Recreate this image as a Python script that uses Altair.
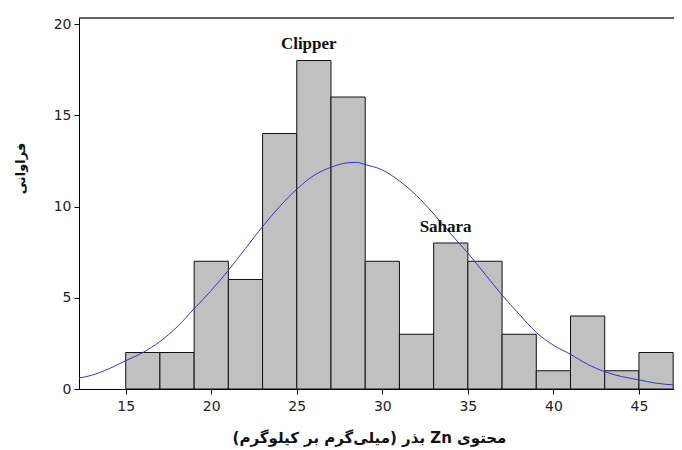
import altair as alt
import pandas as pd

# Histogram bins (Zn content, mg/kg) and frequencies
bin_start = [15, 17, 19, 21, 23, 25, 27, 29, 31, 33, 35, 37, 39, 41, 43, 45]
bin_end = [17, 19, 21, 23, 25, 27, 29, 31, 33, 35, 37, 39, 41, 43, 45, 47]
counts = [2, 2, 7, 6, 14, 18, 16, 7, 3, 8, 7, 3, 1, 4, 1, 2]

# Fitted curve
curve_x = [12.27, 13, 14, 15, 16, 17, 18, 19, 20, 21, 22, 23, 24, 25, 26, 27, 28, 28.5,
           29, 30, 31, 32, 33, 34, 35, 36, 37, 38, 39, 40, 41, 42, 43, 44, 45, 46, 47.05]
curve_y = [0.6, 0.75, 1.1, 1.55, 2.0, 2.6, 3.4, 4.4, 5.4, 6.5, 7.7, 8.9, 10.0, 10.95, 11.7, 12.15, 12.4, 12.42,
           12.3, 12.0, 11.4, 10.6, 9.6, 8.5, 7.45, 6.3, 5.15, 4.1, 3.1, 2.4, 1.9, 1.35, 0.95, 0.68, 0.5, 0.32, 0.22]

# Annotations
label_text = ["Clipper", "Sahara"]
label_x = [25.7, 33.7]
label_y = [18.9, 8.9]

x_ticks = [15, 20, 25, 30, 35, 40, 45]
y_ticks = [0, 5, 10, 15, 20]
x_domain = [12.27, 47.05]
y_domain = [0, 20.33]

bars_df = pd.DataFrame({"start": bin_start, "end": bin_end, "count": counts})
curve_df = pd.DataFrame({"x": curve_x, "y": curve_y})
labels_df = pd.DataFrame({"text": label_text, "x": label_x, "y": label_y})

x_title = "\u202bمحتوی Zn بذر (میلی\u200cگرم بر کیلوگرم)\u202c"
y_title = "فراوانی"

xscale = alt.Scale(domain=x_domain, nice=False, zero=False)
yscale = alt.Scale(domain=y_domain, nice=False)

x_axis = alt.Axis(values=x_ticks, title=x_title, grid=False, domainColor="black",
                  tickColor="black", tickSize=5, labelFont="DejaVu Sans", labelFontSize=14,
                  labelColor="#222", labelPadding=5, titleFont="DejaVu Sans",
                  titleFontSize=15, titleFontWeight="bold", titleColor="#111",
                  titleX=290, titleY=41, titleBaseline="top", titleAnchor="middle")
y_axis = alt.Axis(values=y_ticks, title=y_title, grid=False, domainColor="black",
                  tickColor="black", tickSize=5, labelFont="DejaVu Sans", labelFontSize=14,
                  labelColor="#222", labelPadding=3, titleFont="DejaVu Sans",
                  titleFontSize=13, titleFontWeight="bold", titleColor="#111",
                  titleX=-52, titleY=150, titleAngle=-90, titleAnchor="middle")

bars = alt.Chart(bars_df).mark_rect(fill="#c0c0c0", stroke="#111", strokeWidth=1).encode(
    x=alt.X("start:Q", scale=xscale, axis=x_axis),
    x2="end:Q",
    y=alt.Y("count:Q", scale=yscale, axis=y_axis),
    y2=alt.datum(0),
)

curve = alt.Chart(curve_df).mark_line(color="#3535c0", strokeWidth=1, interpolate="monotone").encode(
    x=alt.X("x:Q", scale=xscale),
    y=alt.Y("y:Q", scale=yscale),
)

labels = alt.Chart(labels_df).mark_text(font="Liberation Serif", fontWeight="bold", fontSize=17,
                                        color="#111", baseline="middle", align="center").encode(
    x=alt.X("x:Q", scale=xscale),
    y=alt.Y("y:Q", scale=yscale),
    text="text:N",
)

top_border = alt.Chart(pd.DataFrame({"y": [y_domain[1]]})).mark_rule(color="#333", strokeWidth=1.5).encode(
    y=alt.Y("y:Q", scale=yscale),
)

chart = alt.layer(bars, curve, labels, top_border).properties(
    width=595, height=371,
    autosize="none",
    padding={"left": 71, "top": 10, "right": 0, "bottom": 61},
).configure_view(stroke=None).configure(background="white")

chart.save("out.html", embed_options={"renderer": "svg", "actions": False})
